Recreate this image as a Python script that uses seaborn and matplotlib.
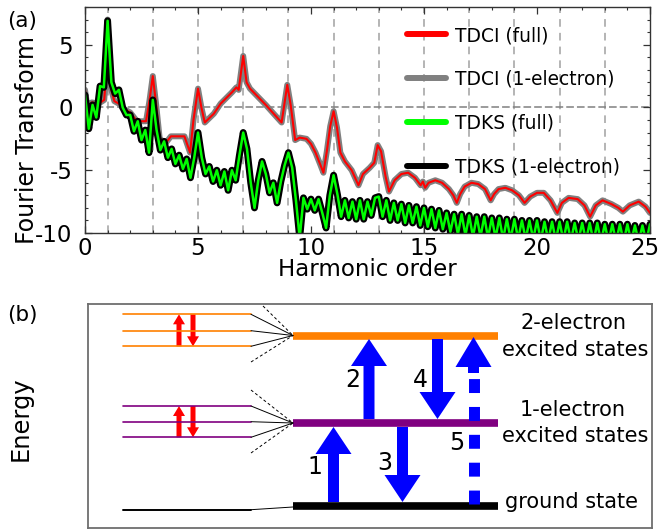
import numpy as np
import matplotlib
matplotlib.use("Agg")
import matplotlib.pyplot as plt
import matplotlib.transforms as mtrans
from matplotlib.lines import Line2D
from matplotlib.patches import FancyArrow
import seaborn as sns

# ---------------- panel (a): values ----------------
# TDCI spectrum (full and 1-electron curves lie on top of each other)
tdci_x = [0.0, 0.1, 0.3, 0.6, 0.85, 0.93, 1.0, 1.08, 1.15, 1.3, 1.5, 1.7, 2.0, 2.3, 2.7,
          2.85, 3.0, 3.15, 3.3, 3.5, 3.8, 4.4, 4.65, 4.8, 5.0, 5.15, 5.3, 5.7, 6.0,
          6.5, 6.7, 6.8, 7.0, 7.15, 7.3, 8.0, 8.7, 8.75, 8.95, 9.1, 9.3, 9.5, 9.8,
          10.0, 10.2, 10.4, 10.55, 10.7, 10.85, 11.0, 11.15, 11.3, 11.5, 11.8, 12.1,
          12.3, 12.6, 12.8, 12.95, 13.1, 13.3, 13.45, 13.7, 14.0, 14.3, 14.6, 14.85,
          14.95, 15.05, 15.2, 15.5, 15.8, 16.1, 16.3, 16.45, 16.6, 16.8, 17.1, 17.4,
          17.7, 17.95, 18.1, 18.3, 18.6, 18.9, 19.2, 19.45, 19.7, 20.0, 20.3, 20.6,
          20.9, 21.1, 21.4, 21.8, 22.1, 22.35, 22.6, 22.9, 23.3, 23.6, 23.8, 24.1,
          24.5, 24.8, 25.0]
tdci_y = [1.4, 0.1, 0.4, 0.3, 0.6, 2.5, 7.0, 3.0, 1.5, 0.5, 0.3, -0.1, -0.4, -1.1, -1.1,
          0.5, 2.5, 0.2, -2.4, -3.0, -2.3, -2.3, -3.6, -1.0, 1.5, 0.0, -1.2, -0.5, 0.3,
          1.2, 1.6, 1.4, 4.1, 2.0, 1.5, 0.2, -1.2, -0.6, 1.8, 0.2, -2.6, -2.4, -2.5,
          -2.9, -3.6, -4.5, -5.2, -3.5, -1.5, -0.3, -1.6, -3.6, -4.3, -5.0, -6.2,
          -5.3, -4.8, -4.4, -3.0, -3.5, -5.5, -6.7, -5.8, -5.3, -5.2, -5.6, -6.2,
          -5.9, -6.4, -6.0, -5.8, -6.0, -6.5, -7.0, -7.6, -6.9, -6.3, -6.0, -6.1,
          -6.5, -7.4, -6.9, -6.5, -6.4, -6.6, -7.0, -7.6, -7.1, -6.8, -6.8, -7.4,
          -8.4, -7.6, -7.2, -7.3, -7.8, -8.7, -7.8, -7.4, -7.7, -8.0, -8.3, -7.8,
          -7.5, -7.9, -8.4]

# TDKS spectrum, sampled every 1/6 harmonic: one row per harmonic order
tdks_rows = [
    [1.0, -1.7, 0.2, -0.8, 1.7, 1.6],
    [6.9, 2.0, 1.1, 1.4, 0.0, -0.6],
    [-0.6, -1.9, -1.1, -2.6, -1.8, -3.6],
    [0.6, -1.8, -3.4, -2.7, -4.0, -3.3],
    [-4.5, -3.8, -4.9, -4.1, -5.6, -4.0],
    [-2.0, -4.0, -5.3, -4.7, -5.9, -5.0],
    [-6.2, -5.1, -6.6, -5.0, -5.8, -3.8],
    [-2.0, -3.3, -6.0, -8.0, -5.8, -4.3],
    [-5.3, -6.8, -6.0, -7.6, -5.9, -4.6],
    [-3.6, -4.8, -7.4, -10.4, -7.2, -8.1],
    [-7.3, -8.2, -7.3, -8.4, -9.6, -7.0],
    [-5.4, -6.9, -8.7, -7.4, -8.8, -7.5],
    [-8.9, -7.4, -8.9, -7.5, -8.6, -7.2],
    [-7.1, -8.7, -7.4, -9.0, -7.6, -9.0],
    [-7.7, -9.2, -7.8, -9.2, -7.9, -9.4],
    [-8.0, -9.5, -8.1, -9.6, -8.2, -9.7],
    [-8.4, -9.9, -8.5, -10.1, -8.5, -10.2],
    [-8.6, -10.3, -8.7, -10.3, -8.7, -10.4],
    [-8.8, -10.4, -8.8, -10.5, -8.9, -10.5],
    [-8.9, -10.5, -9.0, -10.5, -9.0, -10.5],
    [-9.0, -10.6, -9.1, -10.6, -9.1, -10.6],
    [-9.1, -10.6, -9.1, -10.6, -9.2, -10.6],
    [-9.2, -10.6, -9.2, -10.7, -9.2, -10.7],
    [-9.3, -10.7, -9.3, -10.7, -9.3, -10.7],
    [-9.3, -10.7, -9.4, -10.7, -9.4, -10.7],
    [-9.3],
]
tdks_y = [v for row in tdks_rows for v in row]
tdks_x = np.arange(len(tdks_y)) / 6

odd_harmonics = [1, 3, 5, 7, 9, 11, 13, 15, 17, 19, 21, 23]
legend_labels = ["TDCI (full)", "TDCI (1-electron)", "TDKS (full)", "TDKS (1-electron)"]
legend_colors = ["#ff0000", "#808080", "#00ff00", "#000000"]

# ---------------- panel (b): level scheme, in pixel units of the box ----------------
bar_y = [335.5, 423, 506]                    # 2-electron, 1-electron, ground
bar_colors = ["#ff8000", "#800080", "#000000"]
sub_levels = [[314.3, 330.7, 346.3], [406, 421.7, 437.3]]
fan_dashes = [[(263, 306), (251, 362)], [(251, 390), (251, 453)]]
# blue transitions: x, tail, tip, label, label position
transitions = [
    (333.5, 502, 427, "1", (315, 467)),
    (369, 419, 339, "2", (353, 380)),
    (402.5, 427, 502, "3", (385, 463)),
    (437.5, 339, 419, "4", (420, 380)),
]
dotted_transition = (473.5, 504, 337, "5", (457, 443))
level_texts = [("2-electron", 573, 323), ("excited states", 575, 350),
               ("1-electron", 573, 410), ("excited states", 575, 436)]

sns.set_style("ticks")
plt.rcParams["font.family"] = ["DejaVu Sans"]
plt.rcParams["axes.unicode_minus"] = False
plt.rcParams["text.color"] = "black"
plt.rcParams["axes.labelcolor"] = "black"
plt.rcParams["xtick.labelcolor"] = "black"
plt.rcParams["ytick.labelcolor"] = "black"

fig = plt.figure(figsize=(6.61, 5.30), dpi=100)

# ---------------- (a) ----------------
ax = fig.add_axes([85 / 661, 1 - 233 / 530, 565 / 661, 226 / 530])
for h in odd_harmonics:
    ax.axvline(h, color="#a0a0a0", lw=1.1, ls=(0, (5, 4)), zorder=0)
ax.axhline(0, color="#808080", lw=1.1, ls=(0, (5, 2)), zorder=0)

sns.lineplot(x=tdci_x, y=tdci_y, ax=ax, color="#808080", lw=4.3, legend=False)
sns.lineplot(x=tdci_x, y=tdci_y, ax=ax, color="#ff0000", lw=1.5, legend=False)
sns.lineplot(x=tdks_x, y=tdks_y, ax=ax, color="#000000", lw=5, legend=False)
sns.lineplot(x=tdks_x, y=tdks_y, ax=ax, color="#00ff00", lw=1.8, legend=False)

ax.set_xlim(0, 25)
ax.set_ylim(-10, 8)
ax.set_xticks([0, 5, 10, 15, 20, 25])
ax.set_xticks(range(0, 26), minor=True)
ax.set_yticks([-10, -5, 0, 5])
ax.set_yticks(range(-10, 9), minor=True)
ax.tick_params(which="both", direction="in", top=True, right=True, color="#333333")
ax.tick_params(which="major", length=5, width=0.9, labelsize=16.5)
ax.tick_params(which="minor", length=2.3, width=0.8)
ax.tick_params(axis="x", pad=3)
ax.tick_params(axis="y", pad=9)
for s in ax.spines.values():
    s.set_color("#333333")
    s.set_linewidth(1)

# keep the last x tick label inside the figure, as in the original
last = ax.xaxis.get_major_ticks()[-1].label1
last.set_transform(last.get_transform()
                   + mtrans.ScaledTranslation(-0.05, 0, fig.dpi_scale_trans))

ax.set_xlabel("Harmonic order", fontsize=16.5)
ax.set_ylabel("Fourier Transform", fontsize=17)
ax.xaxis.set_label_coords(0.5, -0.112)
ax.yaxis.set_label_coords(-0.082, 0.41)

handles = [Line2D([], [], color=c, lw=4.3) for c in legend_colors]
ax.legend(handles, legend_labels, loc="upper left", frameon=False,
          bbox_to_anchor=(407 / 661, 1 - 26 / 530), bbox_transform=fig.transFigure,
          fontsize=13.4, borderpad=0, borderaxespad=0, handlelength=2.1,
          handletextpad=0.5, labelspacing=1.34)

fig.text(7 / 661, 1 - 21 / 530, "(a)", fontsize=15.5, va="center")

# ---------------- (b) ----------------
bx = fig.add_axes([88 / 661, 2 / 530, 564 / 661, 224 / 530])
bx.set_xlim(88, 652)
bx.set_ylim(528, 304)
bx.set_xticks([])
bx.set_yticks([])
for s in bx.spines.values():
    s.set_color("#6e6e6e")
    s.set_linewidth(1.3)

for y, c in zip(bar_y, bar_colors):
    bx.plot([293, 498], [y, y], color=c, lw=5.5, solid_capstyle="butt")

for levels, c, ybar, dashes in zip(sub_levels, bar_colors[:2], bar_y[:2], fan_dashes):
    for y in levels:
        bx.plot([123, 251], [y, y], color=c, lw=1.2)
        bx.plot([251, 293], [y, ybar], color="black", lw=0.7)
    for (x0, y0) in dashes:
        bx.plot([x0, 293], [y0, ybar], color="black", lw=0.7, ls=(0, (3, 2.5)))
    # red up/down arrows inside the manifold
    bx.add_patch(FancyArrow(179, levels[2], 0, levels[0] - levels[2], width=5,
                            head_width=12, head_length=10, length_includes_head=True,
                            color="#ff0000", lw=0))
    bx.add_patch(FancyArrow(193, levels[0], 0, levels[2] - levels[0], width=5,
                            head_width=12, head_length=10, length_includes_head=True,
                            color="#ff0000", lw=0))

bx.plot([123, 251], [509.7, 509.7], color="black", lw=1.4)
bx.plot([251, 293], [509.7, 507], color="black", lw=0.7)

for x, y0, y1, lab, (lx, ly) in transitions:
    bx.add_patch(FancyArrow(x, y0, 0, y1 - y0, width=11, head_width=36, head_length=27,
                            length_includes_head=True, color="#0000ff", lw=0, zorder=3))
    bx.text(lx, ly, lab, fontsize=17, ha="center", va="center")

x, y0, y1, lab, (lx, ly) = dotted_transition
bx.add_patch(FancyArrow(x, 373, 0, y1 - 373, width=11, head_width=36, head_length=30,
                        length_includes_head=True, color="#0000ff", lw=0, zorder=3))
bx.plot([x, x], [y0, 373], color="#0000ff", lw=7.9, ls=(0, (1.27, 1.27)),
        solid_capstyle="butt", dash_capstyle="butt", zorder=3)
bx.text(lx, ly, lab, fontsize=17, ha="center", va="center")

for txt, tx, ty in level_texts:
    bx.text(tx, ty, txt, fontsize=15, ha="center", va="center")
bx.text(505, 502, "ground state", fontsize=15, ha="left", va="center")

fig.text(7 / 661, 1 - 315 / 530, "(b)", fontsize=15.5, va="center")
fig.text(21 / 661, 1 - 419 / 530, "Energy", fontsize=17.4, rotation=90,
         ha="center", va="center")

fig.savefig("out.png", dpi=100)
